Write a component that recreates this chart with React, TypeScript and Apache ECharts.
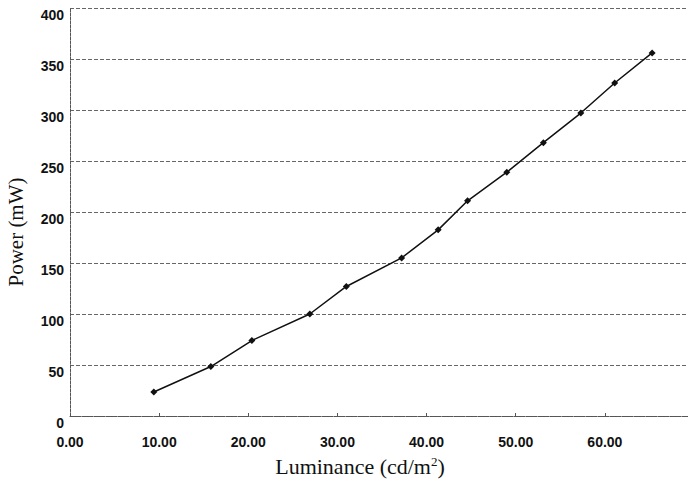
import React, { useEffect, useRef } from "react";
import * as echarts from "echarts";

const luminance = [9.4, 15.8, 20.4, 26.9, 31.0, 37.2, 41.3, 44.6, 49.0, 53.1, 57.3, 61.1, 65.3];
const power = [23.5, 48.5, 74, 100, 127, 155, 182.5, 211, 239, 268, 297, 326.5, 356];

export default function App() {
  const ref = useRef<HTMLDivElement>(null);
  useEffect(() => {
    const chart = echarts.init(ref.current!, null, { renderer: "svg" });
    const data = luminance.map((x, i) => [x, power[i]]);
    chart.setOption({
      animation: false,
      backgroundColor: "#ffffff",
      grid: { left: 70, top: 8, right: -6, bottom: 66, outerBoundsMode: "none", containLabel: false },
      xAxis: {
        type: "value",
        min: 0,
        max: 70,
        interval: 10,
        name: "Luminance (cd/m{sup|2})",
        nameLocation: "middle",
        nameGap: 39,
        nameTextStyle: {
          fontFamily: "Liberation Serif",
          fontSize: 22,
          color: "#111",
          padding: [0, 44, 0, 0],
          rich: {
            sup: { fontFamily: "Liberation Serif", fontSize: 13, color: "#111", padding: [0, 0, 10, 0] },
          },
        },
        axisLine: { show: true, lineStyle: { color: "#555", type: [3, 1], width: 1 } },
        axisTick: { show: true, inside: true, length: 3, lineStyle: { color: "#555" } },
        axisLabel: {
          formatter: (v: number) => v.toFixed(2),
          fontFamily: "Liberation Sans",
          fontSize: 14,
          fontWeight: "bold",
          color: "#111",
          margin: 19,
          showMaxLabel: false,
        },
        splitLine: { show: false },
      },
      yAxis: {
        type: "value",
        min: 0,
        max: 400,
        interval: 50,
        name: "Power (mW)",
        nameLocation: "middle",
        nameGap: 44,
        nameTextStyle: { fontFamily: "Liberation Serif", fontSize: 21, color: "#111", padding: [0, 40, 0, 0] },
        axisLine: { show: true, lineStyle: { color: "#555", type: [3, 1], width: 1 } },
        axisTick: { show: false },
        axisLabel: {
          fontFamily: "Liberation Sans",
          fontSize: 14,
          fontWeight: "bold",
          color: "#111",
          margin: 6,
          verticalAlign: "top",
        },
        splitLine: { show: true, lineStyle: { color: "#666", type: [4, 2], width: 1 } },
      },
      series: [
        {
          type: "line",
          data,
          symbol: "diamond",
          symbolSize: 7,
          lineStyle: { color: "#111", width: 1.5 },
          itemStyle: { color: "#111" },
        },
      ],
    });
    return () => chart.dispose();
  }, []);
  return <div ref={ref} style={{ width: 688, height: 482, position: "absolute", left: 0, top: 0 }} />;
}
